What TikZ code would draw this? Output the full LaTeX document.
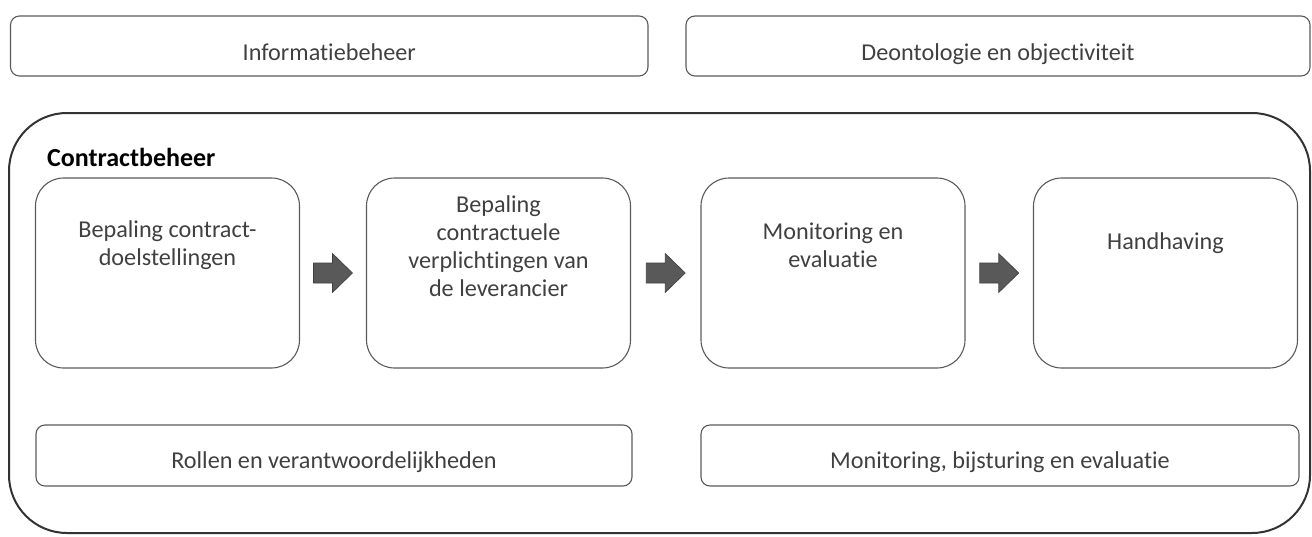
\documentclass[tikz,border=0pt]{standalone}
\usepackage{fontspec}
\setmainfont[Ligatures=NoCommon]{Carlito}
\usetikzlibrary{calc}
\definecolor{boxline}{HTML}{5A5A5A}
\definecolor{txt}{HTML}{404040}
\definecolor{outerline}{HTML}{333333}
\definecolor{arrowfill}{HTML}{595959}
\definecolor{arrowdraw}{HTML}{3F3F3F}
\tikzset{
  barbox/.style={draw=boxline, line width=1.1pt, rounded corners=9pt, text=txt, inner sep=0pt, text depth=0pt},
  procbox/.style={draw=boxline, line width=1.1pt, rounded corners=28pt, minimum width=264pt, minimum height=190pt, inner sep=0pt},
  proctext/.style={text=txt, align=center, inner sep=0pt},
  outerbox/.style={draw=outerline, line width=2pt, rounded corners=58pt, minimum width=1301pt, minimum height=420pt, inner sep=0pt},
}
\newcommand\blockarrow[1]{%
  \filldraw[fill=arrowfill, draw=arrowdraw, line width=0.6pt]
    ($(#1)+(-19.5,-10)$) -- ++(19,0) -- ++(0,-9.5) -- ++(20,19.5) -- ++(-20,19.5) -- ++(0,-9.5) -- ++(-19,0) -- cycle;}
\begin{document}
\begin{tikzpicture}[x=1pt,y=-1pt, font=\fontsize{24.2}{28}\selectfont]
\useasboundingbox (0,0) rectangle (1312,536);
% top bars
\node[barbox, text height=29.4pt, minimum width=637.5pt, minimum height=60pt] (info) at (329.25,46) {Informatiebeheer};
\node[barbox, text height=29.4pt, minimum width=624pt, minimum height=60pt] (deon) at (998,46) {Deontologie en objectiviteit};
% outer container
\node[outerbox] (outer) at (659.5,323) {};
\node[anchor=base west, inner sep=0pt, font=\fontsize{26}{30}\selectfont\bfseries] (title) at (47,166) {Contractbeheer};
% process boxes
\node[procbox] (p1) at (167.5,273) {};
\node[procbox] (p2) at (498.5,273) {};
\node[procbox] (p3) at (833,273) {};
\node[procbox] (p4) at (1165.5,273) {};
\node[proctext] (t1) at ($(p1.center)+(0,-28)$) {Bepaling contract-\\doelstellingen};
\node[proctext] (t2) at ($(p2.center)+(0,-27)$) {Bepaling\\contractuele\\verplichtingen van\\de leverancier};
\node[proctext] (t3) at ($(p3.center)+(0,-28)$) {Monitoring en\\evaluatie};
\node[proctext] (t4) at ($(p4.center)+(0,-30)$) {Handhaving};
% arrows
\coordinate (a1) at ($(p1.east)!0.5!(p2.west)$);
\coordinate (a2) at ($(p2.east)!0.5!(p3.west)$);
\coordinate (a3) at ($(p3.east)!0.5!(p4.west)$);
\blockarrow{a1}
\blockarrow{a2}
\blockarrow{a3}
% bottom bars
\node[barbox, text height=26.5pt, minimum width=596pt, minimum height=61pt] (rollen) at (334,455.5) {Rollen en verantwoordelijkheden};
\node[barbox, text height=26.5pt, minimum width=598pt, minimum height=61pt] (monit) at (1000,455.5) {Monitoring, bijsturing en evaluatie};
\end{tikzpicture}
\end{document}
